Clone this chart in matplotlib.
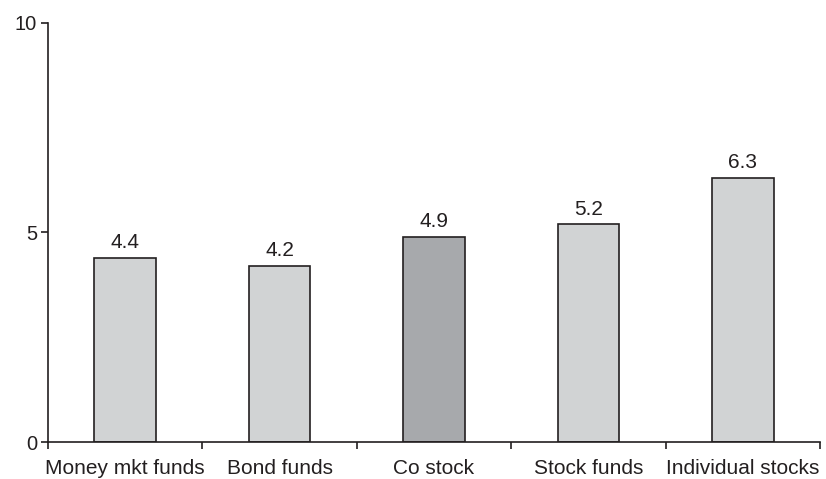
import numpy as np
import matplotlib
matplotlib.use("Agg")
from matplotlib import pyplot as plt

# chart data
categories = ["Money mkt funds", "Bond funds", "Co stock", "Stock funds", "Individual stocks"]
values = [4.4, 4.2, 4.9, 5.2, 6.3]
value_labels = ["4.4", "4.2", "4.9", "5.2", "6.3"]
highlight = "Co stock"

plt.rcParams['font.family'] = ['Liberation Sans', 'DejaVu Sans']

fig = plt.figure(figsize=(8.26, 4.79), dpi=100)
ax = fig.add_axes([48 / 826, 1 - 442 / 479, (820 - 48) / 826, (442 - 23) / 479])

x = np.arange(len(categories))
colors = ["#a7a9ac" if c == highlight else "#d1d3d4" for c in categories]
bars = ax.bar(x, values, width=0.4, color=colors, edgecolor="#231f20", linewidth=1.2)

for b, lab in zip(bars, value_labels):
    ax.annotate(lab, (b.get_x() + b.get_width() / 2, b.get_height()),
                xytext=(0, 4), textcoords="offset points",
                ha="center", va="bottom", fontsize=15, color="#231f20")

ax.set_xlim(-0.5, len(categories) - 0.5)
ax.set_ylim(0, 10)
ax.set_yticks([0, 5, 10])
ax.set_xticks(x)
ax.set_xticklabels(categories)
ax.set_xticks(np.arange(len(categories) + 1) - 0.5, minor=True)

ax.spines['top'].set_visible(False)
ax.spines['right'].set_visible(False)
for s in ['left', 'bottom']:
    ax.spines[s].set_linewidth(1.2)
    ax.spines[s].set_color("#231f20")

ax.tick_params(axis='x', which='major', length=0, pad=12, labelsize=15, colors="#231f20")
ax.tick_params(axis='x', which='minor', length=5, width=1.2, direction='out', color="#231f20")
ax.tick_params(axis='y', length=5, width=1.2, direction='out', pad=3, labelsize=14.5, colors="#231f20")

fig.savefig("out.png", dpi=100)
